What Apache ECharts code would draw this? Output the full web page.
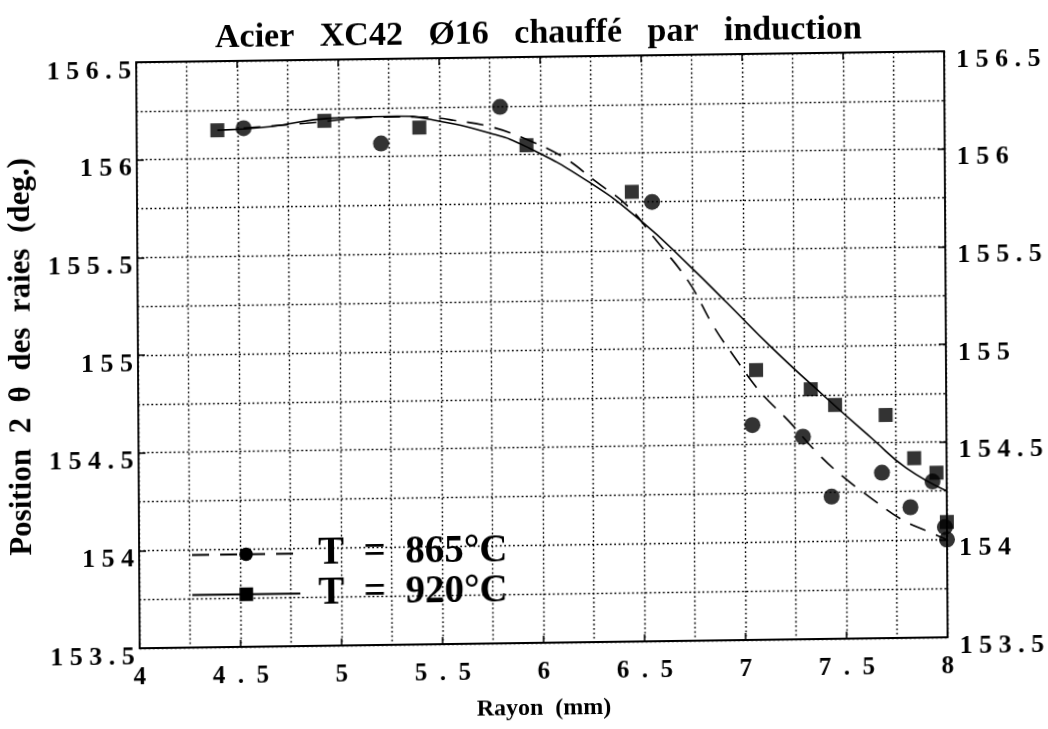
<!DOCTYPE html>
<html>
<head>
<meta charset="utf-8">
<script src="https://cdn.jsdelivr.net/npm/echarts@6/dist/echarts.min.js"></script>
<style>
  html, body { margin: 0; padding: 0; background: #fff; }
  /* slight skew of the whole sheet, as on the printed page */
  #chart {
    width: 1048px; height: 729px;
    transform-origin: 524px 364.5px;
    transform: matrix(1, -0.0136, 0.006, 1, 0, 0);
  }
</style>
</head>
<body>
<div id="chart"></div>
<script>
// Measured line positions (2θ, deg) versus radius (mm)
const radius865 = [4.53, 5.21, 5.80, 6.55, 7.04, 7.29, 7.43, 7.68, 7.82, 7.93, 7.99, 8.00];
const pos865    = [156.155, 156.067, 156.246, 155.749, 154.60, 154.537, 154.228, 154.347, 154.168, 154.298, 154.064, 154.00];

const radius920 = [4.40, 4.93, 5.40, 5.93, 6.45, 7.06, 7.33, 7.45, 7.70, 7.84, 7.95, 8.00];
const pos920    = [156.146, 156.187, 156.146, 156.048, 155.802, 154.881, 154.779, 154.697, 154.642, 154.419, 154.343, 154.09];

// Fitted curves
const fitRadius865 = [4.53, 4.84, 5.20, 5.42, 5.57, 5.76, 5.94, 6.12, 6.27, 6.43, 6.56, 6.73, 6.85, 6.95, 7.08, 7.22, 7.37, 7.50, 7.63, 7.78, 7.91, 8.00];
const fitPos865    = [156.155, 156.176, 156.202, 156.199, 156.181, 156.143, 156.074, 155.979, 155.859, 155.729, 155.564, 155.336, 155.109, 154.954, 154.769, 154.618, 154.442, 154.318, 154.214, 154.104, 154.041, 153.999];

const fitRadius920 = [4.40, 4.66, 4.96, 5.29, 5.45, 5.75, 5.93, 6.24, 6.49, 6.74, 6.92, 7.14, 7.39, 7.64, 7.80, 8.00];
const fitPos920    = [156.146, 156.161, 156.200, 156.206, 156.188, 156.112, 156.040, 155.854, 155.657, 155.413, 155.225, 154.993, 154.749, 154.515, 154.370, 154.249];

const seriesNames = ['T  =  865°C', 'T  =  920°C'];
const titleText = 'Acier   XC42   Ø16   chauffé   par   induction';
const xName = 'Rayon  (mm)';
const yName = 'Position  2  θ  des  raies  (deg.)';

const pairs = (xs, ys) => xs.map((x, i) => [x, ys[i]]);
const spaced = (v, sp) => String(v).split('').join(sp);

const serif = '"Liberation Serif", "DejaVu Serif", serif';
const dotted = { color: '#000', width: 1.4, type: [1.8, 2.6] };

const yLabel = {
  color: '#000', fontFamily: serif, fontWeight: 'bold', fontSize: 26,
  verticalAlign: 'top', lineHeight: 18,
  formatter: v => spaced(v, ' ')
};

const xAxisBase = {
  type: 'value', min: 4, max: 8, interval: 0.5,
  axisLine: { show: true, onZero: false, lineStyle: { color: '#000', width: 1.8 } },
  axisTick: { show: true, inside: true, length: 7, lineStyle: { color: '#000', width: 1.5 } },
  minorTick: { show: false, splitNumber: 2 }
};
const yAxisBase = {
  type: 'value', min: 153.5, max: 156.5, interval: 0.5,
  axisLine: { show: true, onZero: false, lineStyle: { color: '#000', width: 1.8 } },
  axisTick: { show: true, inside: true, length: 7, lineStyle: { color: '#000', width: 1.5 } },
  minorTick: { show: false, splitNumber: 2 }
};

const chart = echarts.init(document.getElementById('chart'), null, { renderer: 'canvas' });
chart.setOption({
  backgroundColor: '#fff',
  animation: false,
  title: {
    text: titleText,
    left: 217, top: 17, padding: 0,
    textStyle: { color: '#000', fontFamily: serif, fontWeight: 'bold', fontSize: 34 }
  },
  grid: { left: 138, top: 57, width: 808, height: 586, containLabel: false, outerBoundsMode: 'none' },
  legend: {
    orient: 'vertical', left: 190, top: 531, padding: 0,
    itemWidth: 108, itemHeight: 17, itemGap: 1,
    selectedMode: false,
    data: seriesNames,
    textStyle: { color: '#000', fontFamily: serif, fontWeight: 'bold', fontSize: 39, lineHeight: 39, padding: [0, 0, 0, 13] }
  },
  xAxis: [
    Object.assign({}, xAxisBase, {
      position: 'bottom',
      name: xName, nameLocation: 'middle', nameGap: 54,
      nameTextStyle: { color: '#000', fontFamily: serif, fontWeight: 'bold', fontSize: 24 },
      axisLabel: { color: '#000', fontFamily: serif, fontWeight: 'bold', fontSize: 25, margin: 17, formatter: v => spaced(v, '\u2002') },
      splitLine: { show: true, lineStyle: dotted },
      minorSplitLine: { show: true, lineStyle: dotted }
    }),
    Object.assign({}, xAxisBase, {
      position: 'top',
      axisLabel: { show: false },
      splitLine: { show: false }
    })
  ],
  yAxis: [
    Object.assign({}, yAxisBase, {
      position: 'left',
      name: yName, nameLocation: 'middle', nameGap: 98, nameRotate: 90,
      nameTextStyle: { color: '#000', fontFamily: serif, fontWeight: 'bold', fontSize: 31 },
      axisLabel: Object.assign({}, yLabel, { margin: 5 }),
      splitLine: { show: true, lineStyle: dotted },
      minorSplitLine: { show: true, lineStyle: dotted }
    }),
    Object.assign({}, yAxisBase, {
      position: 'right',
      axisLabel: Object.assign({}, yLabel, { margin: 12 }),
      splitLine: { show: false }
    })
  ],
  series: [
    {
      name: seriesNames[0], type: 'line', smooth: 0.4,
      data: pairs(fitRadius865, fitPos865),
      symbol: 'circle', showSymbol: false, color: '#000',
      lineStyle: { color: '#000', width: 1.6, type: [17, 11] },
      silent: true, z: 3
    },
    {
      name: seriesNames[1], type: 'line', smooth: 0.5,
      data: pairs(fitRadius920, fitPos920),
      symbol: 'rect', showSymbol: false, color: '#000',
      lineStyle: { color: '#000', width: 1.6, type: 'solid' },
      silent: true, z: 3
    },
    {
      name: seriesNames[0], type: 'scatter',
      data: pairs(radius865, pos865),
      symbol: 'circle', symbolSize: 16,
      itemStyle: { color: '#000' }, z: 4
    },
    {
      name: seriesNames[1], type: 'scatter',
      data: pairs(radius920, pos920),
      symbol: 'rect', symbolSize: 14,
      itemStyle: { color: '#000' }, z: 4
    }
  ]
});
</script>
</body>
</html>
